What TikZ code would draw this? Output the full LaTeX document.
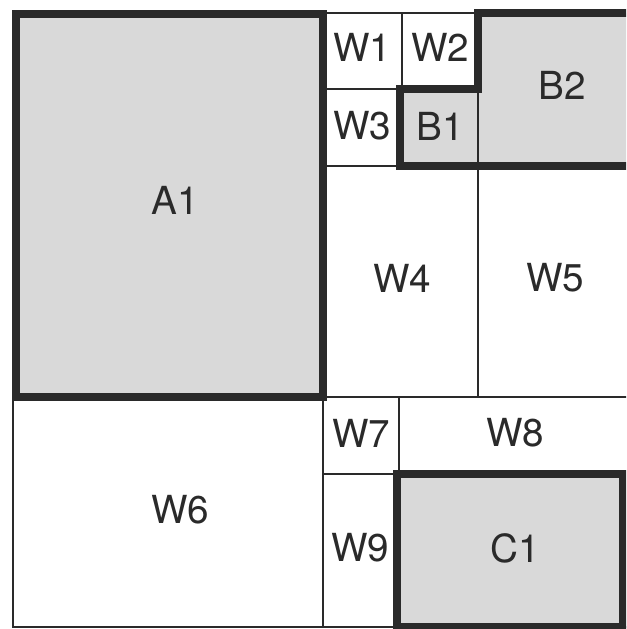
\documentclass[tikz,border=0pt]{standalone}
\usepackage{fontspec}
\setmainfont{TeX Gyre Heros}
\usepackage{xcolor}
\usetikzlibrary{positioning}
\definecolor{ink}{HTML}{2A2A2A}
\definecolor{busy}{HTML}{D9D9D9}
\tikzset{
  wall/.style={draw=ink,line width=0.65mm},
  block/.style={draw=ink,line width=2.3mm,fill=busy,line join=miter},
  lbl/.style={font=\fontsize{33}{33}\selectfont,text=ink,inner sep=0pt},
}

\begin{document}
\begin{tikzpicture}[x=0.3mm,y=-0.3mm]
  \useasboundingbox (0,0) rectangle (626,629);
  \clip (0,0) rectangle (626,629);
  % thin partition lines
  \draw[wall] (323,13)--(478,13);
  \draw[wall] (402,13)--(402,89);
  \draw[wall] (323,89)--(400,89);
  \draw[wall] (323,166)--(400,166);
  \draw[wall] (478,89)--(478,397);
  \draw[wall] (323,397)--(640,397);
  \draw[wall] (13,397)--(13,627)--(640,627);
  \draw[wall] (323,397)--(323,627);
  \draw[wall] (399,397)--(399,474);
  \draw[wall] (323,474)--(399,474);
  % occupied blocks
  \draw[block] (16,14) rectangle (323,397);
  \draw[block] (640,13)--(478,13)--(478,89)--(400,89)--(400,166)--(640,166);
  \draw[wall] (478,89)--(478,166);
  \draw[block] (397,474) rectangle (623,627);
  % labels
  \node[lbl] (a1) at (175,200) {A1};
  \node[lbl] (w1) at (362,47) {W1};
  \node[lbl] (w2) at (440,47) {W2};
  \node[lbl] (w3) at (362,126) {W3};
  \node[lbl] (b1) at (440,126) {B1};
  \node[lbl] (b2) at (562,85) {B2};
  \node[lbl] (w4) at (402,278) {W4};
  \node[lbl] (w5) at (555,278) {W5};
  \node[lbl] (w6) at (180,510) {W6};
  \node[lbl] (w7) at (361,433) {W7};
  \node[lbl] (w8) at (515,433) {W8};
  \node[lbl] (w9) at (360,548) {W9};
  \node[lbl] (c1) at (515,548) {C1};
\end{tikzpicture}
\end{document}
